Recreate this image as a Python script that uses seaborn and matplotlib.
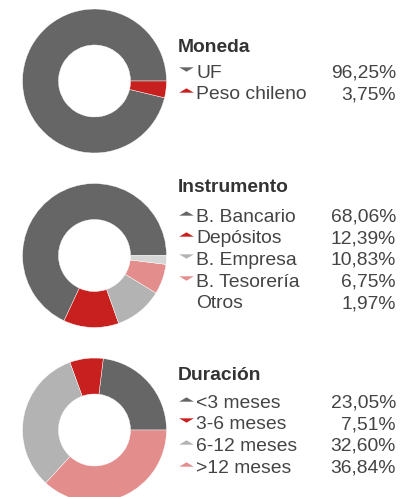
import matplotlib
matplotlib.use("Agg")
import matplotlib.pyplot as plt
import seaborn as sns

# data
moneda_labels = ["UF", "Peso chileno"]
moneda_values = [96.25, 3.75]
moneda_pct = ["96,25%", "3,75%"]
moneda_arrows = ["down", "up"]

instr_labels = ["B. Bancario", "Depósitos", "B. Empresa", "B. Tesorería", "Otros"]
instr_values = [68.06, 12.39, 10.83, 6.75, 1.97]
instr_pct = ["68,06%", "12,39%", "10,83%", "6,75%", "1,97%"]
instr_arrows = ["up", "up", "down", "down", None]

dur_labels = ["<3 meses", "3-6 meses", "6-12 meses", ">12 meses"]
dur_values = [23.05, 7.51, 32.60, 36.84]
dur_pct = ["23,05%", "7,51%", "32,60%", "36,84%"]
dur_arrows = ["up", "down", "up", "up"]

DARK = "#666666"
RED = "#c8201e"
LGRAY = "#b3b3b3"
PINK = "#e38d8c"
VLGRAY = "#d6d6d6"

moneda_colors = [DARK, RED]
instr_colors = [DARK, RED, LGRAY, PINK, VLGRAY]
dur_colors = [DARK, RED, LGRAY, PINK]

sns.set_style("white")
plt.rcParams["font.family"] = ["Liberation Sans", "DejaVu Sans"]

W, H = 411, 497
fig = plt.figure(figsize=(W / 100, H / 100), dpi=100)

# overlay axes in pixel coords for the legend blocks
lax = fig.add_axes([0, 0, 1, 1])
lax.set_xlim(0, W)
lax.set_ylim(H, 0)
lax.axis("off")

up_tri = [(-1, -0.3), (1, -0.3), (0, 0.3)]
down_tri = [(-1, 0.3), (1, 0.3), (0, -0.3)]

blocks = [
    ("Moneda", moneda_labels, moneda_values, moneda_pct, moneda_arrows, moneda_colors, 81, 47, 73),
    ("Instrumento", instr_labels, instr_values, instr_pct, instr_arrows, instr_colors, 255.5, 188, 217),
    ("Duración", dur_labels, dur_values, dur_pct, dur_arrows, dur_colors, 430, 375, 403),
]

R = 72
cx = 94.5
step = 21.7
for title, labels, values, pct, arrows, colors, cy, ty, y0 in blocks:
    ax = fig.add_axes([(cx - R) / W, (H - cy - R) / H, 2 * R / W, 2 * R / H])
    ax.pie(values, colors=colors, startangle=0, counterclock=True,
           wedgeprops=dict(width=0.5, edgecolor="white", linewidth=0.3))
    ax.set_xlim(-1, 1)
    ax.set_ylim(-1, 1)
    ax.set_aspect("equal")
    ax.axis("off")

    lax.text(178, ty, title, fontsize=13.9, fontweight="bold", color="#333333",
             va="center", ha="left")
    for i, lab in enumerate(labels):
        y = y0 + i * step
        lax.text(196, y, lab, fontsize=13.9, color="#444444", va="center", ha="left")
        lax.text(396, y, pct[i], fontsize=13.9, color="#444444", va="center", ha="right")
        if arrows[i] is not None:
            m = up_tri if arrows[i] == "up" else down_tri
            lax.scatter([186], [y - 4.5], marker=m, s=110, color=colors[i], linewidths=0)

fig.savefig("out.png", dpi=100)
